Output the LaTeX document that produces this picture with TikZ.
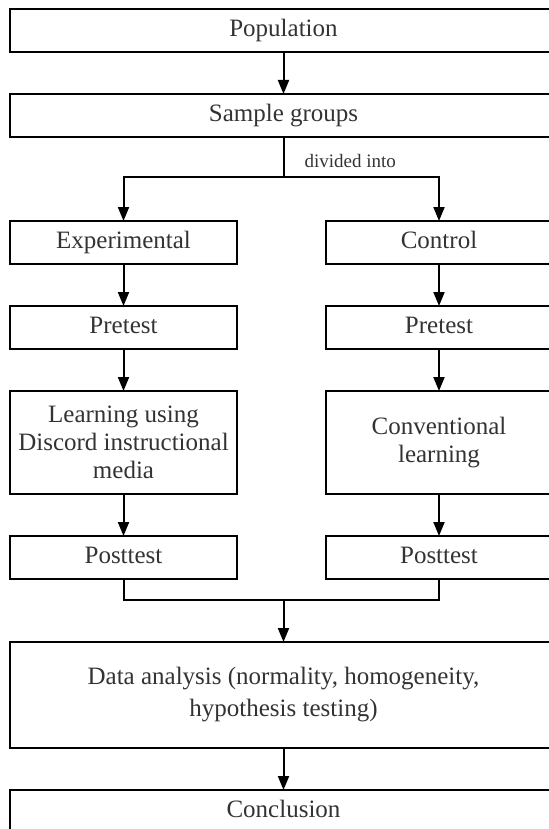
\documentclass[tikz,border=0pt]{standalone}
\usepackage{fontspec}
\setmainfont{Liberation Serif}
\usetikzlibrary{positioning,arrows.meta}

\begin{document}
\begin{tikzpicture}[auto, node distance=21pt, line width=1pt, >={Triangle[length=7pt,width=5.5pt]},
  tall/.style={draw,outer sep=0pt,minimum width=113.5pt,minimum height=21.5pt,align=center,inner sep=2pt,font=\fontsize{12.5}{14}\selectfont,text=black!80},
  stage/.style={tall,text height=8.5pt,text depth=2.5pt},
  wstage/.style={stage,minimum width=273.5pt},
  note/.style={inner sep=0pt,font=\fontsize{9.5}{11}\selectfont,text=black!80}]
\useasboundingbox (0,0) rectangle (274.5pt,-414.5pt);
\clip (0,0) rectangle (274.5pt,-414.5pt);
\node[wstage,anchor=north west] (pop) at (5pt,-4.75pt) {Population};
\node[wstage,below=20.75pt of pop] (sample) {Sample groups};
%
\node[stage,below=42pt of sample.south west,anchor=north west] (exp) {Experimental};
\node[stage,below=of exp]    (epre)   {Pretest};
\node[tall,below=of epre,minimum height=51.5pt] (elearn) {Learning using\\Discord instructional\\media};
\node[stage,below=of elearn] (epost)  {Posttest};
%
\node[stage,below=42pt of sample.south east,anchor=north east,xshift=-2.25pt] (ctrl) {Control};
\node[stage,below=of ctrl]   (cpre)   {Pretest};
\node[tall,below=of cpre,minimum height=51.5pt] (clearn) {Conventional\\learning};
\node[stage,below=of clearn] (cpost)  {Posttest};
%
\node[tall,minimum width=273.5pt,below=31.5pt of epost.south west,anchor=north west,minimum height=53pt,font=\fontsize{12.5}{16}\selectfont] (data) {Data analysis (normality, homogeneity,\\hypothesis testing)};
\node[wstage,below=of data] (concl) {Conclusion};
%
\coordinate[below=20pt of sample] (split);
\coordinate[above=21pt of data]   (join);
\node[note,above right=4pt and 10pt of split] (div) {divided into};
%
\path[->]
	(pop) edge (sample)
%
	(exp) edge (epre)
	(epre) edge (elearn)
	(elearn) edge (epost)
%
	(ctrl) edge (cpre)
	(cpre) edge (clearn)
	(clearn) edge (cpost)
%
	(join) edge (data)
	(data) edge (concl)
; %-draw-%
\draw[->] (sample) -- (split) -| (exp);
\draw[->] (split) -| (ctrl);
\draw (epost) |- (join) -| (cpost);
\end{tikzpicture}
\end{document}
